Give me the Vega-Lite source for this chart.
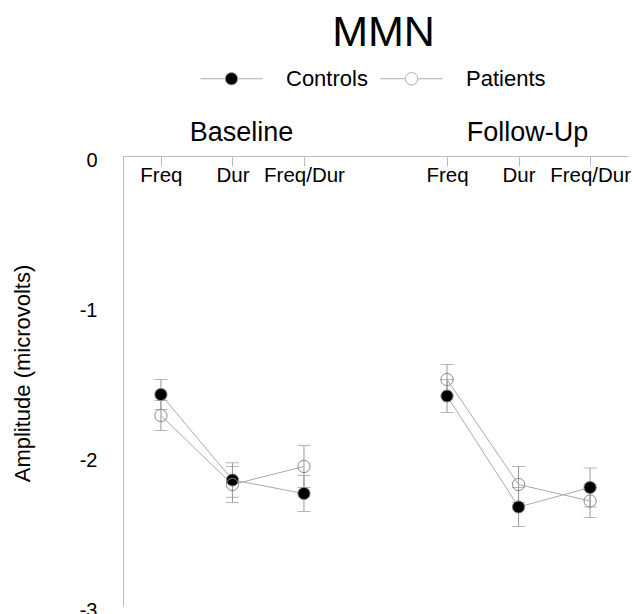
{
  "$schema": "https://vega.github.io/schema/vega-lite/v6.json",
  "width": 505,
  "height": 450,
  "autosize": {"type": "none"},
  "padding": {"left": 123, "top": 156, "right": 10, "bottom": 8},
  "title": {"text": "MMN", "fontSize": 43, "font": "Liberation Sans", "fontWeight": "normal", "color": "#000", "anchor": "middle", "dx": 8, "dy": 8, "offset": 0},
  "config": {
    "view": {"stroke": null},
    "font": "Liberation Sans",
    "axis": {"grid": false},
    "legend": {
      "orient": "none", "legendX": 77, "legendY": -109, "direction": "horizontal", "title": null,
      "symbolType": "M-1,0H-0.22M0.22,0H1M-0.2,0A0.2,0.2 0 1,0 0.2,0A0.2,0.2 0 1,0 -0.2,0Z",
      "symbolSize": 3844, "symbolStrokeColor": "#aaa", "symbolStrokeWidth": 1,
      "labelFontSize": 22, "labelFont": "Liberation Sans", "labelColor": "#000",
      "labelOffset": 23, "columnPadding": 10, "padding": 0
    }
  },
  "datasets": {
    "points": [
      {"session": "Baseline", "cond": "Freq", "key": "Baseline Freq", "group": "Controls", "mean": -1.59, "se": 0.10},
      {"session": "Baseline", "cond": "Dur", "key": "Baseline Dur", "group": "Controls", "mean": -2.16, "se": 0.115},
      {"session": "Baseline", "cond": "Freq/Dur", "key": "Baseline Freq/Dur", "group": "Controls", "mean": -2.25, "se": 0.12},
      {"session": "Follow-Up", "cond": "Freq", "key": "Follow-Up Freq", "group": "Controls", "mean": -1.60, "se": 0.11},
      {"session": "Follow-Up", "cond": "Dur", "key": "Follow-Up Dur", "group": "Controls", "mean": -2.34, "se": 0.13},
      {"session": "Follow-Up", "cond": "Freq/Dur", "key": "Follow-Up Freq/Dur", "group": "Controls", "mean": -2.21, "se": 0.13},
      {"session": "Baseline", "cond": "Freq", "key": "Baseline Freq", "group": "Patients", "mean": -1.73, "se": 0.10},
      {"session": "Baseline", "cond": "Dur", "key": "Baseline Dur", "group": "Patients", "mean": -2.19, "se": 0.12},
      {"session": "Baseline", "cond": "Freq/Dur", "key": "Baseline Freq/Dur", "group": "Patients", "mean": -2.07, "se": 0.14},
      {"session": "Follow-Up", "cond": "Freq", "key": "Follow-Up Freq", "group": "Patients", "mean": -1.49, "se": 0.10},
      {"session": "Follow-Up", "cond": "Dur", "key": "Follow-Up Dur", "group": "Patients", "mean": -2.19, "se": 0.12},
      {"session": "Follow-Up", "cond": "Freq/Dur", "key": "Follow-Up Freq/Dur", "group": "Patients", "mean": -2.30, "se": 0.11}
    ],
    "heads": [
      {"heading": "Baseline", "key": "Baseline Dur"},
      {"heading": "Follow-Up", "key": "Follow-Up Dur"}
    ]
  },
  "layer": [
    {
      "data": {"name": "points"},
      "mark": {"type": "errorbar", "ticks": true, "size": 13, "color": "#999", "thickness": 1},
      "encoding": {
        "x": {
          "field": "key", "type": "nominal",
          "scale": {"type": "point", "padding": 0.53, "domain": ["Baseline Freq", "Baseline Dur", "Baseline Freq/Dur", "gap", "Follow-Up Freq", "Follow-Up Dur", "Follow-Up Freq/Dur"]},
          "axis": {
            "orient": "bottom", "offset": -450, "title": null,
            "values": ["Baseline Freq", "Baseline Dur", "Baseline Freq/Dur", "Follow-Up Freq", "Follow-Up Dur", "Follow-Up Freq/Dur"],
            "labelExpr": "replace(replace(datum.value, 'Baseline ', ''), 'Follow-Up ', '')",
            "labelFontSize": 20.5, "labelColor": "#000", "labelAngle": 0, "labelOverlap": false,
            "tickSize": 10, "tickColor": "#bbb", "domainColor": "#bbb", "labelPadding": -1, "labelBaseline": "top"
          }
        },
        "y": {
          "field": "mean", "type": "quantitative",
          "scale": {"domain": [-3, 0], "nice": false},
          "axis": {
            "values": [0, -1, -2, -3], "ticks": false, "labelFontSize": 20, "labelPadding": 26, "labelColor": "#000",
            "labelExpr": "'' + datum.value",
            "labelFlush": false, "labelOffset": 4, "domainColor": "#bbb",
            "title": "Amplitude (microvolts)", "titleFontSize": 22, "titleFontWeight": "normal", "titleColor": "#000",
            "titleX": -94, "titleY": 217, "titleAngle": -90, "titleAlign": "center", "titleBaseline": "alphabetic"
          }
        },
        "yError": {"field": "se"}
      }
    },
    {
      "data": {"name": "points"},
      "mark": {"type": "line", "color": "#aaa", "strokeWidth": 1},
      "encoding": {
        "x": {"field": "key", "type": "nominal"},
        "y": {"field": "mean", "type": "quantitative"},
        "detail": [{"field": "group"}, {"field": "session"}],
        "order": {"value": null}
      }
    },
    {
      "data": {"name": "points"},
      "mark": {"type": "point", "shape": "circle", "filled": true, "size": 150, "opacity": 1, "stroke": "#888", "strokeWidth": 1},
      "encoding": {
        "x": {"field": "key", "type": "nominal"},
        "y": {"field": "mean", "type": "quantitative"},
        "fill": {"field": "group", "type": "nominal", "scale": {"domain": ["Controls", "Patients"], "range": ["#000", "transparent"]}}
      }
    },
    {
      "data": {"name": "heads"},
      "mark": {"type": "text", "fontSize": 27, "font": "Liberation Sans", "dx": 9, "dy": -15, "baseline": "alphabetic", "align": "center", "color": "#000"},
      "encoding": {
        "x": {"field": "key", "type": "nominal"},
        "y": {"datum": 0, "type": "quantitative"},
        "text": {"field": "heading"}
      }
    }
  ]
}
